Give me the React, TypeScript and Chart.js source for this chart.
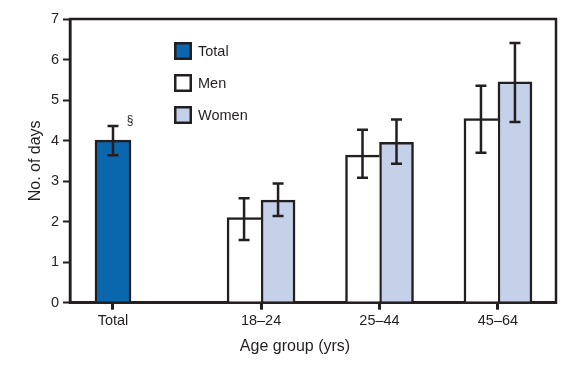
import React, { useEffect, useRef } from "react";
import { Chart, registerables } from "chart.js";
Chart.register(...registerables);

const categories = ["Total", "18–24", "25–44", "45–64"];
const categoryPositions = [0, 1.25, 2.25, 3.25];
const totalValues = [4.01, null, null, null];
const totalLow = [3.64, null, null, null];
const totalHigh = [4.36, null, null, null];
const menValues = [null, 2.1, 3.64, 4.54];
const menLow = [null, 1.55, 3.08, 3.7];
const menHigh = [null, 2.58, 4.27, 5.35];
const womenValues = [null, 2.53, 3.96, 5.45];
const womenLow = [null, 2.14, 3.43, 4.46];
const womenHigh = [null, 2.94, 4.52, 6.41];
const yTicks = [0, 1, 2, 3, 4, 5, 6, 7];
const xTitle = "Age group (yrs)";
const yTitle = "No. of days";
const footnoteMark = "§";

const INK = "#231f20";
const FONT = "'Liberation Sans', Arial, Helvetica, sans-serif";

const toPoints = (vals: (number | null)[]) =>
  vals.map((v, i) => ({ x: categoryPositions[i], y: v }));

const errorBarPlugin = {
  id: "errorBars",
  afterDatasetsDraw(chart: any) {
    const ctx = chart.ctx;
    const yScale = chart.scales.y;
    ctx.save();
    ctx.strokeStyle = INK;
    ctx.lineWidth = 2.5;
    chart.data.datasets.forEach((ds: any, i: number) => {
      const meta = chart.getDatasetMeta(i);
      meta.data.forEach((bar: any, j: number) => {
        const lo = ds.errLow[j];
        const hi = ds.errHigh[j];
        if (lo == null || hi == null) return;
        const x = bar.x;
        const yl = yScale.getPixelForValue(lo);
        const yh = yScale.getPixelForValue(hi);
        ctx.beginPath();
        ctx.moveTo(x, yl);
        ctx.lineTo(x, yh);
        ctx.moveTo(x - 5.5, yl);
        ctx.lineTo(x + 5.5, yl);
        ctx.moveTo(x - 5.5, yh);
        ctx.lineTo(x + 5.5, yh);
        ctx.stroke();
        if (ds.mark && ds.mark[j]) {
          ctx.fillStyle = INK;
          ctx.font = `12px ${FONT}`;
          ctx.textAlign = "center";
          ctx.textBaseline = "middle";
          ctx.fillText(ds.mark[j], x + 17, yh - 5);
        }
      });
    });
    ctx.restore();
  },
};

const framePlugin = {
  id: "frame",
  afterDraw(chart: any) {
    const { ctx, chartArea } = chart;
    const { left, top, right, bottom } = chartArea;
    ctx.save();
    ctx.strokeStyle = INK;
    ctx.lineWidth = 2.5;
    ctx.strokeRect(left, top, right - left, bottom - top);
    // legend
    const bx = left + 104;
    let by = top + 23;
    ctx.font = `14.5px ${FONT}`;
    ctx.textAlign = "left";
    ctx.textBaseline = "middle";
    chart.data.datasets.forEach((ds: any) => {
      ctx.fillStyle = ds.backgroundColor;
      ctx.fillRect(bx, by, 18, 18);
      ctx.lineWidth = 2.5;
      ctx.strokeRect(bx + 1.25, by + 1.25, 15.5, 15.5);
      ctx.fillStyle = INK;
      ctx.fillText(ds.label, bx + 24, by + 9.5);
      by += 32;
    });
    // x title
    ctx.font = `16px ${FONT}`;
    ctx.textAlign = "center";
    ctx.fillText(xTitle, (left + right) / 2 - 18, bottom + 44);
    ctx.restore();
  },
};

export default function App() {
  const ref = useRef<HTMLCanvasElement>(null);
  useEffect(() => {
    document.body.style.margin = "0";
    const chart = new Chart(ref.current as HTMLCanvasElement, {
      type: "bar",
      data: {
        datasets: [
          {
            label: "Total",
            data: toPoints(totalValues),
            errLow: totalLow,
            errHigh: totalHigh,
            mark: [footnoteMark, null, null, null],
            backgroundColor: "#0a67ae",
            borderColor: INK,
            borderWidth: { left: 2.5, right: 2.5, top: 2.5, bottom: 0 },
            borderSkipped: false,
            barThickness: 36,
          } as any,
          {
            label: "Men",
            data: toPoints(menValues),
            errLow: menLow,
            errHigh: menHigh,
            backgroundColor: "#ffffff",
            borderColor: INK,
            borderWidth: { left: 2.5, right: 0, top: 2.5, bottom: 0 },
            borderSkipped: false,
            barThickness: 34,
          } as any,
          {
            label: "Women",
            data: toPoints(womenValues),
            errLow: womenLow,
            errHigh: womenHigh,
            backgroundColor: "#c5d1e8",
            borderColor: INK,
            borderWidth: { left: 2.5, right: 2.5, top: 2.5, bottom: 0 },
            borderSkipped: false,
            barThickness: 34,
          } as any,
        ],
      },
      options: {
        animation: false,
        responsive: false,
        devicePixelRatio: 1,
        skipNull: true,
        layout: { padding: { top: 19, right: 24, left: 0, bottom: 0 } },
        plugins: { legend: { display: false }, tooltip: { enabled: false } },
        scales: {
          x: {
            type: "linear",
            min: -0.363,
            max: 3.74,
            offset: false,
            afterBuildTicks: (scale: any) => {
              scale.ticks = categoryPositions.map((v) => ({ value: v }));
            },
            afterFit: (scale: any) => {
              scale.height = 62.3;
            },
            ticks: {
              autoSkip: false,
              maxRotation: 0,
              padding: 3,
              color: INK,
              font: { family: FONT, size: 14.5 },
              callback: (_v: any, i: number) => categories[i],
            },
            grid: {
              offset: false,
              drawOnChartArea: false,
              drawTicks: true,
              tickLength: 7,
              tickWidth: 3,
              color: INK,
            },
            border: { display: true, color: INK, width: 2.5 },
          },
          y: {
            type: "linear",
            min: 0,
            max: 7,
            afterBuildTicks: (scale: any) => {
              scale.ticks = yTicks.map((v) => ({ value: v }));
            },
            afterFit: (scale: any) => {
              scale.width = 70;
            },
            ticks: {
              padding: 4,
              color: INK,
              font: { family: FONT, size: 14.5 },
            },
            grid: {
              drawOnChartArea: false,
              drawTicks: true,
              tickLength: 7,
              tickWidth: 2,
              color: INK,
            },
            border: { display: true, color: INK, width: 2.5 },
            title: {
              display: true,
              text: yTitle,
              color: INK,
              font: { family: FONT, size: 16 },
              padding: { top: 26, bottom: 0 },
            },
          },
        },
      } as any,
      plugins: [errorBarPlugin, framePlugin],
    });
    return () => chart.destroy();
  }, []);
  return (
    <div style={{ width: 580, height: 365 }}>
      <canvas ref={ref} width={580} height={365} />
    </div>
  );
}
